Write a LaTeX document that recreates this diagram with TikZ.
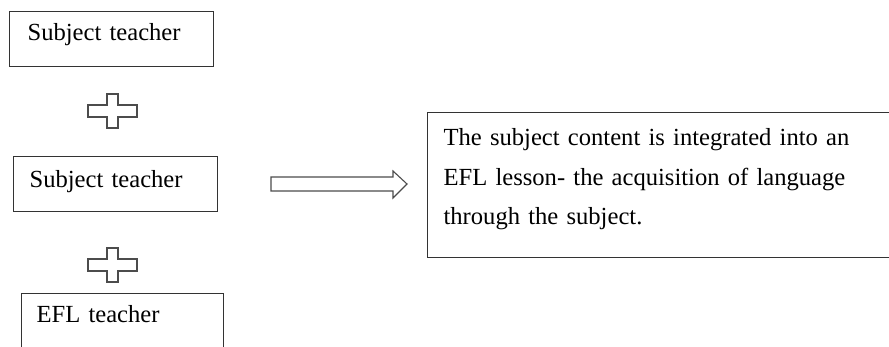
\documentclass[tikz,border=0pt]{standalone}
\usepackage{fontspec}
\setmainfont{Liberation Serif}
\usetikzlibrary{positioning}

\tikzset{
  tbox/.style={draw=black!80, line width=1.2pt, anchor=north west, align=left,
    inner ysep=0pt, font=\fontsize{24.6}{39.5}\selectfont},
  outline/.style={draw=black!70, line width=1.1pt, line join=miter},
  pics/plussign/.style={code={
    \draw[outline] (-5.5,-17) -- (5.5,-17) -- (5.5,-6) -- (24.5,-6) -- (24.5,6)
      -- (5.5,6) -- (5.5,17) -- (-5.5,17) -- (-5.5,6) -- (-24.5,6)
      -- (-24.5,-6) -- (-5.5,-6) -- cycle;
  }}
}

\begin{document}
\begin{tikzpicture}[x=1pt, y=-1pt]
  \clip (0,0) rectangle (889,347);
  \useasboundingbox (0,0) rectangle (889,347);

  % teachers on the left
  \node[tbox, inner xsep=18pt, text width=168pt, text height=29pt, text depth=26pt]
    (sub1) at (9,11) {Subject teacher};
  \pic (plus1) at (112.5,111) {plussign};
  \node[tbox, inner xsep=16pt, text width=172pt, text height=31pt, text depth=24pt]
    (sub2) at (13,156) {Subject teacher};
  \pic (plus2) at (112.5,265) {plussign};
  \node[tbox, inner xsep=15pt, text width=172pt, text height=29pt, text depth=60pt]
    (efl) at (21,293) {EFL teacher};

  % result of the integration
  \node[tbox, inner xsep=16pt, text width=441pt, text height=33pt, text depth=112pt]
    (result) at (427,112) {The subject content is integrated into an\\
      EFL lesson- the acquisition of language\\
      through the subject.};

  % block arrow
  \coordinate (arrtail) at (271,184);
  \draw[outline] (arrtail) ++(0,-7) -- ++(122,0) -- ++(0,-6) -- ++(14,13)
    -- ++(-14,14) -- ++(0,-7) -- ++(-122,0) -- cycle;
\end{tikzpicture}
\end{document}
